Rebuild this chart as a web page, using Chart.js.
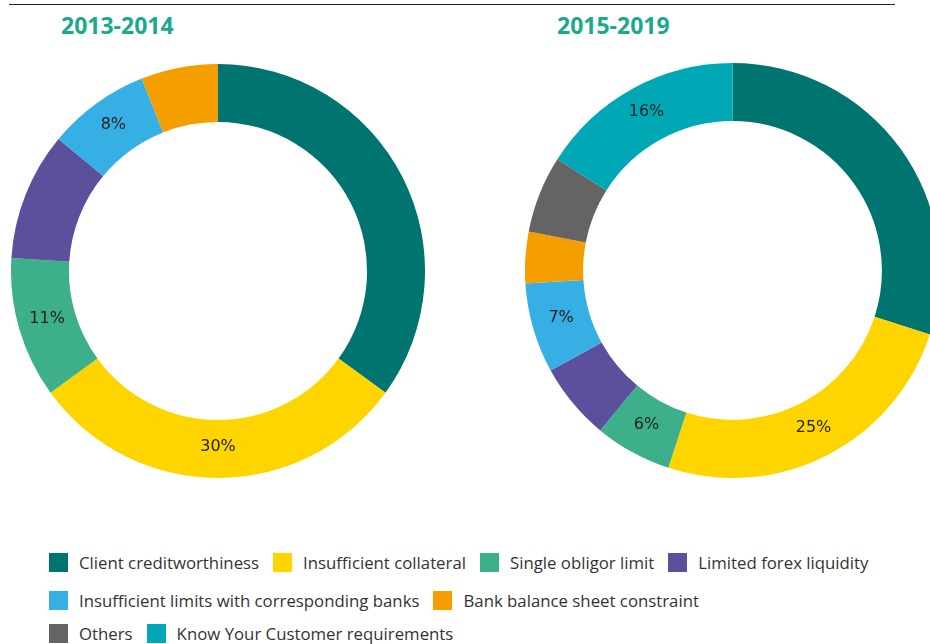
<!DOCTYPE html>
<html>
<head>
<meta charset="utf-8">
<script src="https://cdn.jsdelivr.net/npm/chart.js@4.4.1/dist/chart.umd.min.js"></script>
<style>
  html, body { margin: 0; padding: 0; background: #fff; width: 930px; height: 644px; overflow: hidden; }
  body { position: relative; font-family: "Open Sans", "Noto Sans", sans-serif; }
  .topline { position: absolute; left: 9px; top: 4px; width: 886px; height: 1px; background: #222; }
  .title { position: absolute; top: 9px; font-family: "Noto Sans", sans-serif; font-weight: bold; font-size: 23px; color: #19a98b; }
  .wrap { position: absolute; }
  #legend { position: absolute; left: 49px; top: 553px; }
  .row { display: flex; align-items: center; height: 19px; }
  .row:nth-child(1) { margin-bottom: 19px; }
  .row:nth-child(2) { margin-bottom: 14px; }
  .item { display: flex; align-items: center; margin-right: 14px; }
  .box { width: 19px; height: 19px; margin-right: 11px; }
  .lbl { font-size: 16.8px; color: #333; white-space: nowrap; }
</style>
</head>
<body>
<div class="topline"></div>
<div class="title" style="left:61px">2013-2014</div>
<div class="title" style="left:557px">2015-2019</div>
<div class="wrap" style="left:11px; top:64px;"><canvas id="left" width="414" height="414"></canvas></div>
<div class="wrap" style="left:525px; top:63px;"><canvas id="right" width="415" height="415"></canvas></div>
<div id="legend"></div>

<script>
// categories (clockwise from 12 o'clock)
const categories = [
  "Client creditworthiness",
  "Insufficient collateral",
  "Single obligor limit",
  "Limited forex liquidity",
  "Insufficient limits with corresponding banks",
  "Bank balance sheet constraint",
  "Others",
  "Know Your Customer requirements"
];
const colors = ["#00746f", "#ffd500", "#3daf8b", "#5b509c", "#35afe4", "#f59e00", "#646464", "#00a8b5"];

// shares in %
const values2013 = [35, 30, 11, 10, 8, 6, 0, 0];
const values2019 = [30, 25, 6, 6, 7, 4, 6, 16];

// which slices carry a percentage label
const shown2013 = [1, 2, 4];
const shown2019 = [1, 2, 4, 7];

const legendRows = [[0, 1, 2, 3], [4, 5], [6, 7]];

// draw "xx%" in the middle of the selected arcs
const sliceLabels = {
  id: "sliceLabels",
  afterDatasetsDraw(chart, args, opts) {
    const ctx = chart.ctx;
    const meta = chart.getDatasetMeta(0);
    const data = chart.data.datasets[0].data;
    ctx.save();
    ctx.font = "16px 'DejaVu Sans'";
    ctx.fillStyle = "#222";
    ctx.textAlign = "center";
    ctx.textBaseline = "middle";
    opts.show.forEach(i => {
      const p = meta.data[i].tooltipPosition();
      ctx.fillText(data[i] + "%", p.x, p.y - 2);
    });
    ctx.restore();
  }
};

function makeDonut(id, values, show) {
  return new Chart(document.getElementById(id), {
    type: "doughnut",
    data: {
      labels: categories,
      datasets: [{
        data: values,
        backgroundColor: colors,
        borderWidth: 0
      }]
    },
    options: {
      responsive: false,
      animation: false,
      cutout: "72%",
      events: [],
      plugins: {
        legend: { display: false },
        tooltip: { enabled: false },
        sliceLabels: { show }
      }
    },
    plugins: [sliceLabels]
  });
}

makeDonut("left", values2013, shown2013);
makeDonut("right", values2019, shown2019);

// legend
const legend = document.getElementById("legend");
legendRows.forEach(row => {
  const r = document.createElement("div");
  r.className = "row";
  row.forEach(i => {
    const it = document.createElement("div");
    it.className = "item";
    it.innerHTML = `<div class="box" style="background:${colors[i]}"></div><span class="lbl">${categories[i]}</span>`;
    r.appendChild(it);
  });
  legend.appendChild(r);
});
</script>
</body>
</html>
